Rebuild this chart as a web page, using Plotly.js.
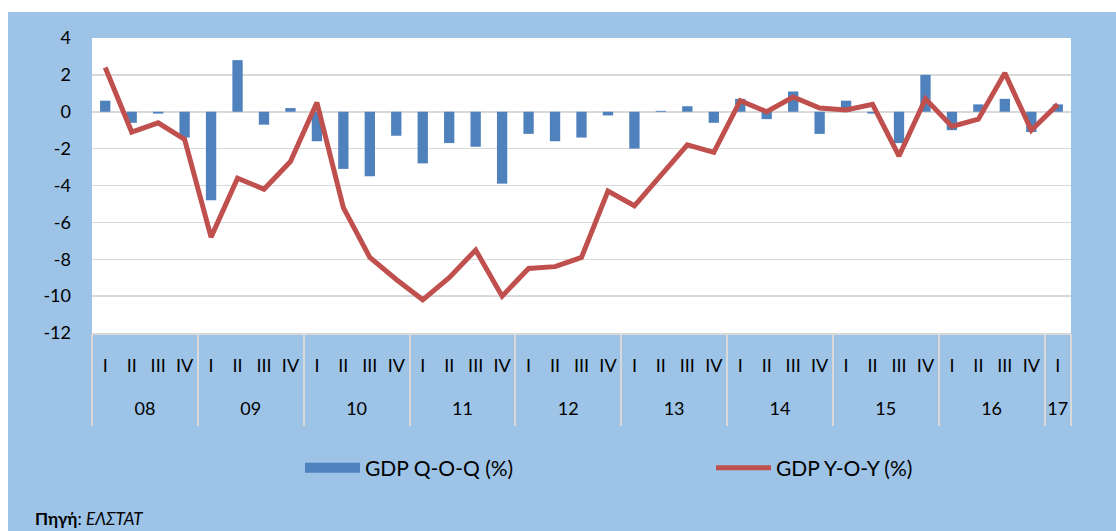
<!DOCTYPE html>
<html>
<head>
<meta charset="utf-8">
<script src="https://cdn.plot.ly/plotly-3.0.1.min.js"></script>
<style>html,body{margin:0;padding:0;background:#fff;}#chart{width:1116px;height:531px;}</style>
</head>
<body>
<div id="chart"></div>
<script>
const years = ['08','08','08','08','09','09','09','09','10','10','10','10','11','11','11','11','12','12','12','12','13','13','13','13','14','14','14','14','15','15','15','15','16','16','16','16','17'];
const quarters = ['I','II','III','IV','I','II','III','IV','I','II','III','IV','I','II','III','IV','I','II','III','IV','I','II','III','IV','I','II','III','IV','I','II','III','IV','I','II','III','IV','I'];
const gdpQoQ = [0.6,-0.6,-0.1,-1.4,-4.8,2.8,-0.7,0.2,-1.6,-3.1,-3.5,-1.3,-2.8,-1.7,-1.9,-3.9,-1.2,-1.6,-1.4,-0.2,-2.0,0.05,0.3,-0.6,0.7,-0.4,1.1,-1.2,0.6,-0.1,-1.7,2.0,-1.0,0.4,0.7,-1.1,0.4];
const gdpYoY = [2.4,-1.1,-0.6,-1.5,-6.8,-3.6,-4.2,-2.7,0.5,-5.2,-7.9,-9.1,-10.2,-9.0,-7.5,-10.0,-8.5,-8.4,-7.9,-4.3,-5.1,-3.5,-1.8,-2.2,0.6,0.0,0.8,0.2,0.1,0.4,-2.4,0.7,-0.8,-0.4,2.1,-1.0,0.4];
const seriesNames = ['GDP Q-O-Q (%)','GDP Y-O-Y (%)'];
const yTicks = [4,2,0,-2,-4,-6,-8,-10,-12];

// category index positions and year groups derived from the arrays
const idx = quarters.map((q, i) => i);
const groupNames = [], groupStart = [], groupEnd = [];
years.forEach((y, i) => {
  if (i === 0 || years[i - 1] !== y) { groupNames.push(y); groupStart.push(i); groupEnd.push(i); }
  else groupEnd[groupEnd.length - 1] = i;
});
const groupCenters = groupStart.map((s, k) => (s + groupEnd[k]) / 2);
const dividers = groupStart.map(s => s - 0.5).concat([years.length - 0.5]);
const xr = [-0.5, years.length - 0.5];

const W = 1116, H = 531;
const L = 92, R = 45, T = 38, B = 198;
const pw = W - L - R, ph = H - T - B;
const px = v => (v - L) / pw;
const py = v => (H - B - v) / ph;

const font = 'Lato, "Open Sans", sans-serif';
const traces = [
  {type:'bar', x:idx, y:gdpQoQ, name:seriesNames[0],
   marker:{color:'#4F81BD'}, hoverinfo:'skip', showlegend:false},
  {type:'scatter', mode:'lines', x:[null], y:[null], name:seriesNames[0],
   line:{color:'#4F81BD', width:14}, hoverinfo:'skip', showlegend:true},
  {type:'scatter', mode:'lines', x:idx, y:gdpYoY, name:seriesNames[1],
   line:{color:'#C0504D', width:5}, hoverinfo:'skip'},
  {type:'scatter', mode:'lines', x:xr, y:[null, null], xaxis:'x2', yaxis:'y', showlegend:false, hoverinfo:'skip'},
  {type:'scatter', mode:'lines', x:xr, y:[null, null], xaxis:'x3', yaxis:'y', showlegend:false, hoverinfo:'skip'}
];
const layout = {
  width: W, height: H,
  margin:{l:L, r:R, t:T, b:B, autoexpand:false},
  paper_bgcolor:'#9DC3E6',
  plot_bgcolor:'#FFFFFF',
  font:{family:font, color:'#000', size:17},
  bargap:0.61,
  showlegend:true,
  xaxis:{range:xr, tickvals:idx, ticktext:quarters, showgrid:false, zeroline:false,
    showline:true, linecolor:'#D9D9D9', linewidth:2,
    tickfont:{size:18, family:font}, tickangle:0, ticks:'', ticklabelstandoff:15, automargin:false, fixedrange:true},
  xaxis2:{overlaying:'x', anchor:'y', side:'bottom', range:xr, tickvals:groupCenters, ticktext:groupNames,
    showgrid:false, zeroline:false, showline:false, ticks:'', tickangle:0,
    tickfont:{size:18, family:font}, ticklabelstandoff:63, automargin:false, fixedrange:true},
  xaxis3:{overlaying:'x', anchor:'y', side:'bottom', range:xr, tickvals:dividers, ticktext:dividers.map(() => ''),
    showgrid:false, zeroline:false, showline:false, ticks:'outside', ticklen:92, tickwidth:2, tickcolor:'#D9D9D9',
    automargin:false, fixedrange:true},
  yaxis:{range:[-12,4], tickvals:yTicks, ticktext:yTicks.map(String),
    showgrid:true, gridcolor:'#D9D9D9', gridwidth:1.5,
    zeroline:true, zerolinecolor:'#D9D9D9', zerolinewidth:1.5,
    showline:false, ticks:'', ticklabelstandoff:20,
    tickfont:{size:18, family:font}, automargin:false, fixedrange:true},
  legend:{orientation:'h', x:px(300), xanchor:'left', y:py(468), yanchor:'middle',
    bgcolor:'rgba(0,0,0,0)', font:{size:21, family:font}, entrywidth:341, itemwidth:55,
    traceorder:'normal'},
  shapes:[
    {type:'rect', xref:'paper', yref:'paper', x0:px(0), x1:px(W), y0:py(12), y1:py(-2), fillcolor:'#FFFFFF', line:{width:0}, layer:'above'},
    {type:'rect', xref:'paper', yref:'paper', x0:px(-2), x1:px(8), y0:py(H+2), y1:py(-2), fillcolor:'#FFFFFF', line:{width:0}, layer:'above'}
  ],
  annotations:[
    {xref:'paper', yref:'paper', x:px(33), y:py(518), xanchor:'left', yanchor:'middle',
     text:'<b>Πηγή</b>: <i>ΕΛΣΤΑΤ</i>', showarrow:false, font:{size:17, family:font, color:'#000'}}
  ]
};
Plotly.newPlot('chart', traces, layout, {displayModeBar:false, staticPlot:true});
</script>
</body>
</html>
